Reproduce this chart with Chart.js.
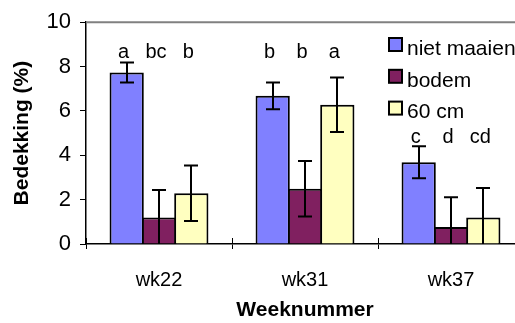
<!DOCTYPE html>
<html>
<head>
<meta charset="utf-8">
<script src="https://cdn.jsdelivr.net/npm/chart.js@4.4.1/dist/chart.umd.min.js"></script>
<style>
  html, body { margin: 0; padding: 0; background: #fff; overflow: hidden; }
  #wrap { position: relative; width: 530px; height: 323px; }
</style>
</head>
<body>
<div id="wrap"><canvas id="chart"></canvas></div>
<script>
const weeks = ["wk22", "wk31", "wk37"];
const seriesNames = ["niet maaien", "bodem", "60 cm"];
const nietMaaien = [7.73, 6.68, 3.69];
const bodem = [1.19, 2.49, 0.77];
const zestigCm = [2.29, 6.28, 1.19];
const errNietMaaien = [0.45, 0.6, 0.72];
const errBodem = [1.25, 1.25, 1.34];
const errZestigCm = [1.25, 1.23, 1.34];
const lettersNietMaaien = ["a", "b", "c"];
const lettersBodem = ["bc", "b", "d"];
const lettersZestigCm = ["b", "a", "cd"];
const letterLevel = [8.63, 8.63, 4.79];
const yTicks = [0, 2, 4, 6, 8, 10];

const FONT = "'Liberation Sans', Arial, sans-serif";
const colors = ["#8080ff", "#802060", "#ffffc0"];
const values = [nietMaaien, bodem, zestigCm];
const errors = [errNietMaaien, errBodem, errZestigCm];
const letters = [lettersNietMaaien, lettersBodem, lettersZestigCm];

// error bars + significance letters
const extras = {
  id: "extras",
  afterDatasetsDraw(chart) {
    const { ctx, chartArea, scales } = chart;
    const y = scales.y;
    ctx.save();
    ctx.beginPath();
    ctx.rect(chartArea.left, chartArea.top - 30, chartArea.right - chartArea.left, chartArea.bottom - chartArea.top + 30);
    ctx.clip();
    ctx.strokeStyle = "#000";
    ctx.lineWidth = 2;
    chart.data.datasets.forEach((ds, i) => {
      const meta = chart.getDatasetMeta(i);
      meta.data.forEach((bar, j) => {
        const v = values[i][j], e = errors[i][j];
        const x = Math.round(bar.x);
        const top = y.getPixelForValue(v + e);
        const low = v - e;
        const bot = y.getPixelForValue(Math.max(low, 0));
        ctx.beginPath();
        ctx.moveTo(x, top);
        ctx.lineTo(x, bot);
        ctx.moveTo(x - 7, top);
        ctx.lineTo(x + 7, top);
        if (low > 0) {
          ctx.moveTo(x - 7, bot);
          ctx.lineTo(x + 7, bot);
        }
        ctx.stroke();
      });
    });
    ctx.restore();

    ctx.save();
    ctx.fillStyle = "#000";
    ctx.font = "20px " + FONT;
    ctx.textAlign = "center";
    ctx.textBaseline = "middle";
    chart.data.datasets.forEach((ds, i) => {
      const meta = chart.getDatasetMeta(i);
      meta.data.forEach((bar, j) => {
        ctx.fillText(letters[i][j], bar.x - 3, y.getPixelForValue(letterLevel[j]));
      });
    });
    ctx.restore();
  },
  afterDraw(chart) {
    const { ctx, chartArea, scales } = chart;
    // gray top border of plot area
    ctx.save();
    ctx.strokeStyle = "#808080";
    ctx.lineWidth = 2;
    ctx.beginPath();
    ctx.moveTo(chartArea.left, chartArea.top);
    ctx.lineTo(chartArea.right, chartArea.top);
    ctx.stroke();
    // inner part of the x tick marks
    const x = scales.x;
    const half = (x.getPixelForValue(1) - x.getPixelForValue(0)) / 2;
    ctx.strokeStyle = "#000";
    ctx.lineWidth = 1;
    for (let i = 0; i <= weeks.length; i++) {
      const px = Math.round(x.getPixelForValue(0) - half + i * half * 2) + 0.5;
      ctx.beginPath();
      ctx.moveTo(px, chartArea.bottom - 6);
      ctx.lineTo(px, chartArea.bottom);
      ctx.stroke();
    }
    // legend
    ctx.font = "21px " + FONT;
    ctx.textBaseline = "middle";
    ctx.textAlign = "left";
    chart.data.datasets.forEach((ds, i) => {
      const top = 38 + i * 31.8;
      ctx.fillStyle = ds.backgroundColor;
      ctx.fillRect(389, top, 13, 13);
      ctx.lineWidth = 2;
      ctx.strokeStyle = "#000";
      ctx.strokeRect(389, top, 13, 13);
      ctx.fillStyle = "#000";
      ctx.fillText(ds.label, 407, top + 11);
    });
    ctx.restore();
  }
};

new Chart(document.getElementById("chart"), {
  type: "bar",
  data: {
    labels: weeks,
    datasets: seriesNames.map((name, i) => ({
      label: name,
      data: values[i],
      backgroundColor: colors[i],
      borderColor: "#000",
      borderWidth: 2,
      inflateAmount: 0,
      barPercentage: 1.06,
      categoryPercentage: 0.664,
    })),
  },
  options: {
    responsive: true,
    maintainAspectRatio: false,
    animation: false,
    events: [],
    layout: { padding: { top: 20, right: 6, left: 0, bottom: 0 } },
    plugins: { legend: { display: false }, tooltip: { enabled: false } },
    scales: {
      x: {
        afterFit: (s) => { s.height = 79; },
        grid: { drawOnChartArea: false, drawTicks: true, tickLength: 5, color: "#000", lineWidth: 1 },
        border: { color: "#000", width: 1.5 },
        ticks: { color: "#000", font: { family: FONT, size: 20 }, padding: 19 },
        title: {
          display: true,
          text: "Weeknummer",
          color: "#000",
          font: { family: FONT, size: 21, weight: "bold" },
          padding: { top: 0, bottom: 0 },
        },
      },
      y: {
        min: 0,
        max: 10,
        afterFit: (s) => { s.width = 86; },
        afterBuildTicks: (s) => { s.ticks = yTicks.map((v) => ({ value: v })); },
        grid: { drawOnChartArea: false, drawTicks: true, tickLength: 6, color: "#000", lineWidth: 1 },
        border: { color: "#000", width: 1.5 },
        ticks: { color: "#000", font: { family: FONT, size: 22 }, padding: 9 },
        title: {
          display: true,
          text: "Bedekking (%)",
          color: "#000",
          font: { family: FONT, size: 21, weight: "bold" },
          padding: { top: 10, bottom: 0 },
        },
      },
    },
  },
  plugins: [extras],
});
</script>
</body>
</html>
